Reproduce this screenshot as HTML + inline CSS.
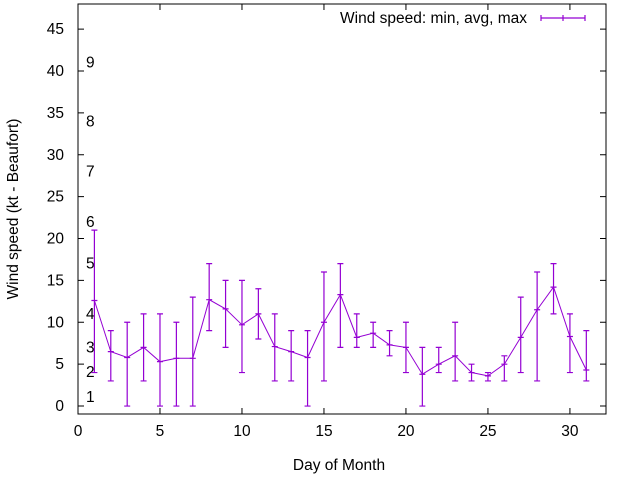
<!DOCTYPE html>
<html><head><meta charset="utf-8"><style>
body{margin:0;background:#fff}
svg text{font-family:"Liberation Sans",sans-serif;font-size:15.5px;fill:#000}
</style></head><body>
<svg id="chart" width="640" height="480" xmlns="http://www.w3.org/2000/svg">
<g id="axes"></g>
<g id="marks"></g>
</svg>
<script>
const days=[1,2,3,4,5,6,7,8,9,10,11,12,13,14,15,16,17,18,19,20,21,22,23,24,25,26,27,28,29,30,31];
const avgSpeed=[12.6,6.5,5.8,7,5.3,5.7,5.7,12.7,11.6,9.7,11,7.1,6.5,5.8,10,13.3,8.2,8.7,7.3,7,3.8,5,6,4,3.6,5,8.2,11.5,14.2,8.3,4.3];
const minSpeed=[4,3,0,3,0,0,0,9,7,4,8,3,3,0,3,7,7,7,6,4,0,4,3,3,3,3,4,3,11,4,3];
const maxSpeed=[21,9,10,11,11,10,13,17,15,15,14,11,9,9,16,17,11,10,9,10,7,7,10,5,4,6,13,16,17,11,9];
const xTicks=[0,5,10,15,20,25,30];
const yTicks=[0,5,10,15,20,25,30,35,40,45];
const beaufortLabels=["1","2","3","4","5","6","7","8","9"];
const beaufortLevels=[1.07,4.05,7,11,17,22,28,34,41];

const L=78,R=606,T=4,B=414;
const xMin=0,xMax=32.2,yMin=-0.95,yMax=48;
const X=v=>L+(v-xMin)/(xMax-xMin)*(R-L);
const Y=v=>B-(v-yMin)/(yMax-yMin)*(B-T);
const NS="http://www.w3.org/2000/svg";
function mk(tag,attrs,parent){const e=document.createElementNS(NS,tag);for(const k in attrs)e.setAttribute(k,attrs[k]);parent.appendChild(e);return e;}
const axes=document.getElementById('axes'),marks=document.getElementById('marks');

let frame=mk('rect',{x:L,y:T,width:R-L,height:B-T,fill:'none',stroke:'#000','stroke-width':1},axes);


xTicks.forEach(v=>{
  const x=X(v);
  let t=mk('path',{d:`M${x} ${B}v-6M${x} ${T}v6`,stroke:'#000'},axes);
  
  
  let l=mk('text',{x:x,y:B+22,'text-anchor':'middle'},axes);l.textContent=v;
  
  
});
yTicks.forEach(v=>{
  const y=Y(v);
  let t=mk('path',{d:`M${L} ${y}h6M${R} ${y}h-6`,stroke:'#000'},axes);
  
  
  let l=mk('text',{x:L-14,y:y+5,'text-anchor':'end'},axes);l.textContent=v;
  
  
});
beaufortLabels.forEach((s,i)=>{
  let l=mk('text',{x:86,y:Y(beaufortLevels[i])+5},axes);l.textContent=s;
  
  
});
let xt=mk('text',{x:339,y:470,'text-anchor':'middle'},axes);xt.textContent='Day of Month';


let yt=mk('text',{x:0,y:0,'text-anchor':'middle',transform:'translate(18,209) rotate(-90)'},axes);yt.textContent='Wind speed (kt - Beaufort)';



const C='#9400d3';
let d='';
days.forEach((dy,i)=>{d+=(i?'L':'M')+X(dy)+' '+Y(avgSpeed[i]);});
let line=mk('path',{d:d,fill:'none',stroke:C,'stroke-width':1},marks);


days.forEach((dy,i)=>{
  const x=X(dy),y0=Y(minSpeed[i]),y1=Y(maxSpeed[i]),ya=Y(avgSpeed[i]);
  let e=mk('path',{d:`M${x} ${y0}V${y1}M${x-3} ${y0}h6M${x-3} ${y1}h6M${x-3} ${ya}h6`,stroke:C,'stroke-width':1.2,fill:'none'},marks);
  
  
});
let lt=mk('text',{x:527,y:23,'text-anchor':'end'},axes);lt.textContent='Wind speed: min, avg, max';


let ls=mk('path',{d:'M541 18H585M541 15v6M585 15v6M563 15v6',stroke:C,'stroke-width':1.2},axes);


</script>
</body></html>
